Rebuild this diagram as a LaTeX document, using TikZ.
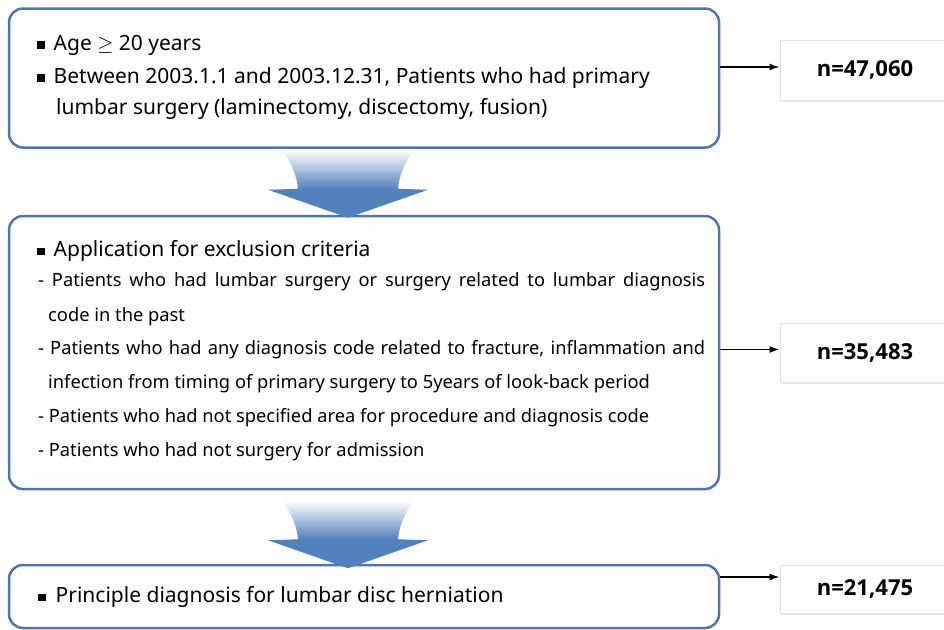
\documentclass[tikz,border=0pt]{standalone}
\usepackage{fontspec}
\setmainfont{Noto Sans}
\newfontfamily\countfont{Open Sans}
\usepackage{amsmath}
\usetikzlibrary{positioning,shadows,arrows.meta}

\definecolor{frameblue}{RGB}{80,116,172}
\definecolor{arrowblue}{RGB}{83,129,189}
\definecolor{countline}{RGB}{222,226,238}
\pgfdeclareverticalshading{fadearrow}{100bp}{color(0bp)=(arrowblue); color(25bp)=(arrowblue); color(47bp)=(arrowblue); color(75bp)=(arrowblue!4); color(100bp)=(arrowblue!4)}
\newcommand{\sqbullet}{\rule[1.5pt]{7.5pt}{7.5pt}}

\begin{document}
\begin{tikzpicture}
    [
        x=1pt, y=-1pt,
        framebox/.style={rectangle, draw=frameblue, line width=2.5pt, rounded corners=14pt, minimum width=710pt},
        countbox/.style={rectangle, draw=countline, fill=white, line width=1pt, minimum width=170pt, font=\countfont\bfseries\fontsize{22}{26}\selectfont, drop shadow={shadow xshift=2pt, shadow yshift=-2pt, opacity=0.3, fill=black!30}},
        itemtext/.style={anchor=west, inner sep=0pt, font=\fontsize{21}{25}\selectfont},
        subtext/.style={anchor=west, inner sep=0pt, font=\fontsize{18.3}{22}\selectfont},
        fullline/.style={subtext, text width=667pt, align=justify},
        countarrow/.style={-{Latex[length=10pt,width=7pt]}, line width=1.5pt},
    ]
    \useasboundingbox (0,0) rectangle (944,629);

    % main boxes
    \node [framebox, minimum height=139pt] (incl) at (364,78) {};
    \node [framebox, minimum height=273pt] (excl) at (364,352.5) {};
    \node [framebox, minimum height=63pt] (diag) at (364,596.5) {};

    % inclusion text
    \node [itemtext] (age) at (37,45) {\sqbullet\hspace{9pt}Age $\geq$ 20 years};
    \node [itemtext] (period) at (37,78) {\sqbullet\hspace{9pt}Between 2003.1.1 and 2003.12.31, Patients who had primary};
    \node [itemtext] (period2) at (56,109) {lumbar surgery (laminectomy, discectomy, fusion)};

    % exclusion text
    \node [itemtext] (exhead) at (37,251) {\sqbullet\hspace{9pt}Application for exclusion criteria};
    \node [fullline] (ex1) at (38,282) {\parfillskip=0pt - Patients who had lumbar surgery or surgery related to lumbar diagnosis\par};
    \node [subtext] (ex1b) at (48,317) {code in the past};
    \node [fullline] (ex2) at (38,350) {\parfillskip=0pt - Patients who had any diagnosis code related to fracture, inflammation and\par};
    \node [subtext] (ex2b) at (48,384) {infection from timing of primary surgery to 5years of look-back period};
    \node [subtext] (ex3) at (38,418) {- Patients who had not specified area for procedure and diagnosis code};
    \node [subtext] (ex4) at (38,452) {- Patients who had not surgery for admission};

    % final text
    \node [itemtext] (disc) at (38,597) {\sqbullet\hspace{10pt}Principle diagnosis for lumbar disc herniation};

    % counts
    \node [countbox, minimum height=60pt] (n1) at (865,70) {n=47,060};
    \node [countbox, minimum height=59pt] (n2) at (865,352.5) {n=35,483};
    \node [countbox, minimum height=48pt] (n3) at (865,589) {n=21,475};

    \coordinate (n1in) at ([yshift=3pt]n1.west);
    \coordinate (n2in) at ([yshift=3pt]n2.west);
    \coordinate (n3in) at ([yshift=12pt]n3.west);
    \draw[countarrow] (incl.east |- n1in) -- (n1in);
    \draw[countarrow] (excl.east |- n2in) -- (n2in);
    \draw[countarrow] (diag.east |- n3in) -- (n3in);

    % block arrows between boxes
    \foreach \from/\gap in {incl/0, excl/9}
    {
        \begin{scope}[shift={([yshift=-\gap pt]\from.south)}]
            \shade[shading=fadearrow] (-81,3) .. controls (-72,15) and (-67,28) .. (-66,40) -- (-96,41) -- (-16,69) -- (64,41) -- (34,40) .. controls (35,28) and (40,15) .. (49,3) -- cycle;
        \end{scope}
    }
\end{tikzpicture}
\end{document}
